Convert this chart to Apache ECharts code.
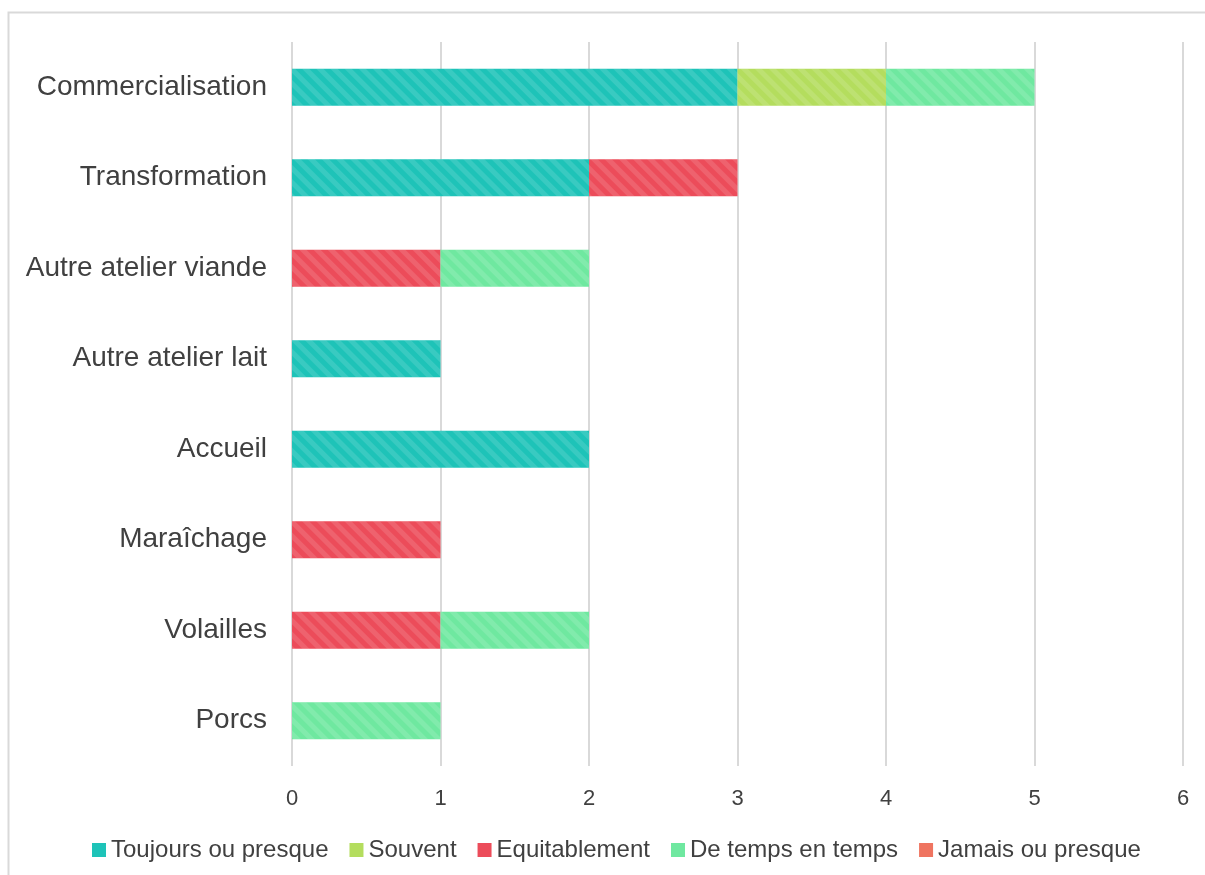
<!DOCTYPE html>
<html><head><meta charset="utf-8">
<script src="https://cdn.jsdelivr.net/npm/echarts@6/dist/echarts.min.js"></script>
<style>html,body{margin:0;padding:0;background:#fff}#c{width:1205px;height:875px}</style>
</head><body><div id="c"></div>
<script>
const categories = ['Porcs','Volailles','Maraîchage','Accueil','Autre atelier lait','Autre atelier viande','Transformation','Commercialisation'];
const seriesNames = ['Toujours ou presque','Souvent','Equitablement','De temps en temps','Jamais ou presque'];
const toujours = [null,null,null,2,1,null,2,3];
const souvent = [null,null,null,null,null,null,null,1];
const equitablement = [null,1,1,null,null,1,1,null];
const deTemps = [1,1,null,null,null,1,null,1];
const jamais = [null,null,null,null,null,null,null,null];
const xTicks = [0,1,2,3,4,5,6];

const colors = ['#1ec3b8','#b4dd5e','#ec4c5a','#6fe8a0','#ef7460'];
const values = [toujours, souvent, equitablement, deTemps, jamais];
const decal = {symbol:'rect', dashArrayX:[1,0], dashArrayY:[5,5], rotation:Math.PI/4, color:'rgba(255,255,255,0.12)', symbolSize:1};

const chart = echarts.init(document.getElementById('c'));
chart.setOption({
  animation:false,
  textStyle:{fontFamily:'Liberation Sans, Arial, sans-serif'},
  graphic:[{type:'rect', shape:{x:8.5,y:12.5,width:1300,height:1000}, style:{fill:'none', stroke:'#d9d9d9', lineWidth:2}, silent:true}],
  grid:{left:292, right:22, top:42, bottom:109, containLabel:false},
  legend:{
    bottom:8, left:87, icon:'rect', itemWidth:14, itemHeight:14, itemGap:21,
    textStyle:{fontSize:24, color:'#404040'},
    data: seriesNames.map((n,i)=>({name:n, itemStyle:{color:colors[i], decal:'none'}}))
  },
  xAxis:{type:'value', min:0, max:6, interval:1,
    axisLine:{show:false}, axisTick:{show:false},
    splitLine:{lineStyle:{color:'#d9d9d9', width:2}},
    axisLabel:{fontSize:22, color:'#404040', margin:22, formatter:(v)=>xTicks.includes(v)?String(v):''}
  },
  yAxis:{type:'category', data:categories,
    axisLine:{show:false}, axisTick:{show:false},
    axisLabel:{fontSize:28, color:'#404040', margin:25}
  },
  series: seriesNames.map((n,i)=>({
    name:n, type:'bar', stack:'s', barWidth:37, data:values[i],
    itemStyle:{color:colors[i], decal:decal}
  }))
});
</script></body></html>
